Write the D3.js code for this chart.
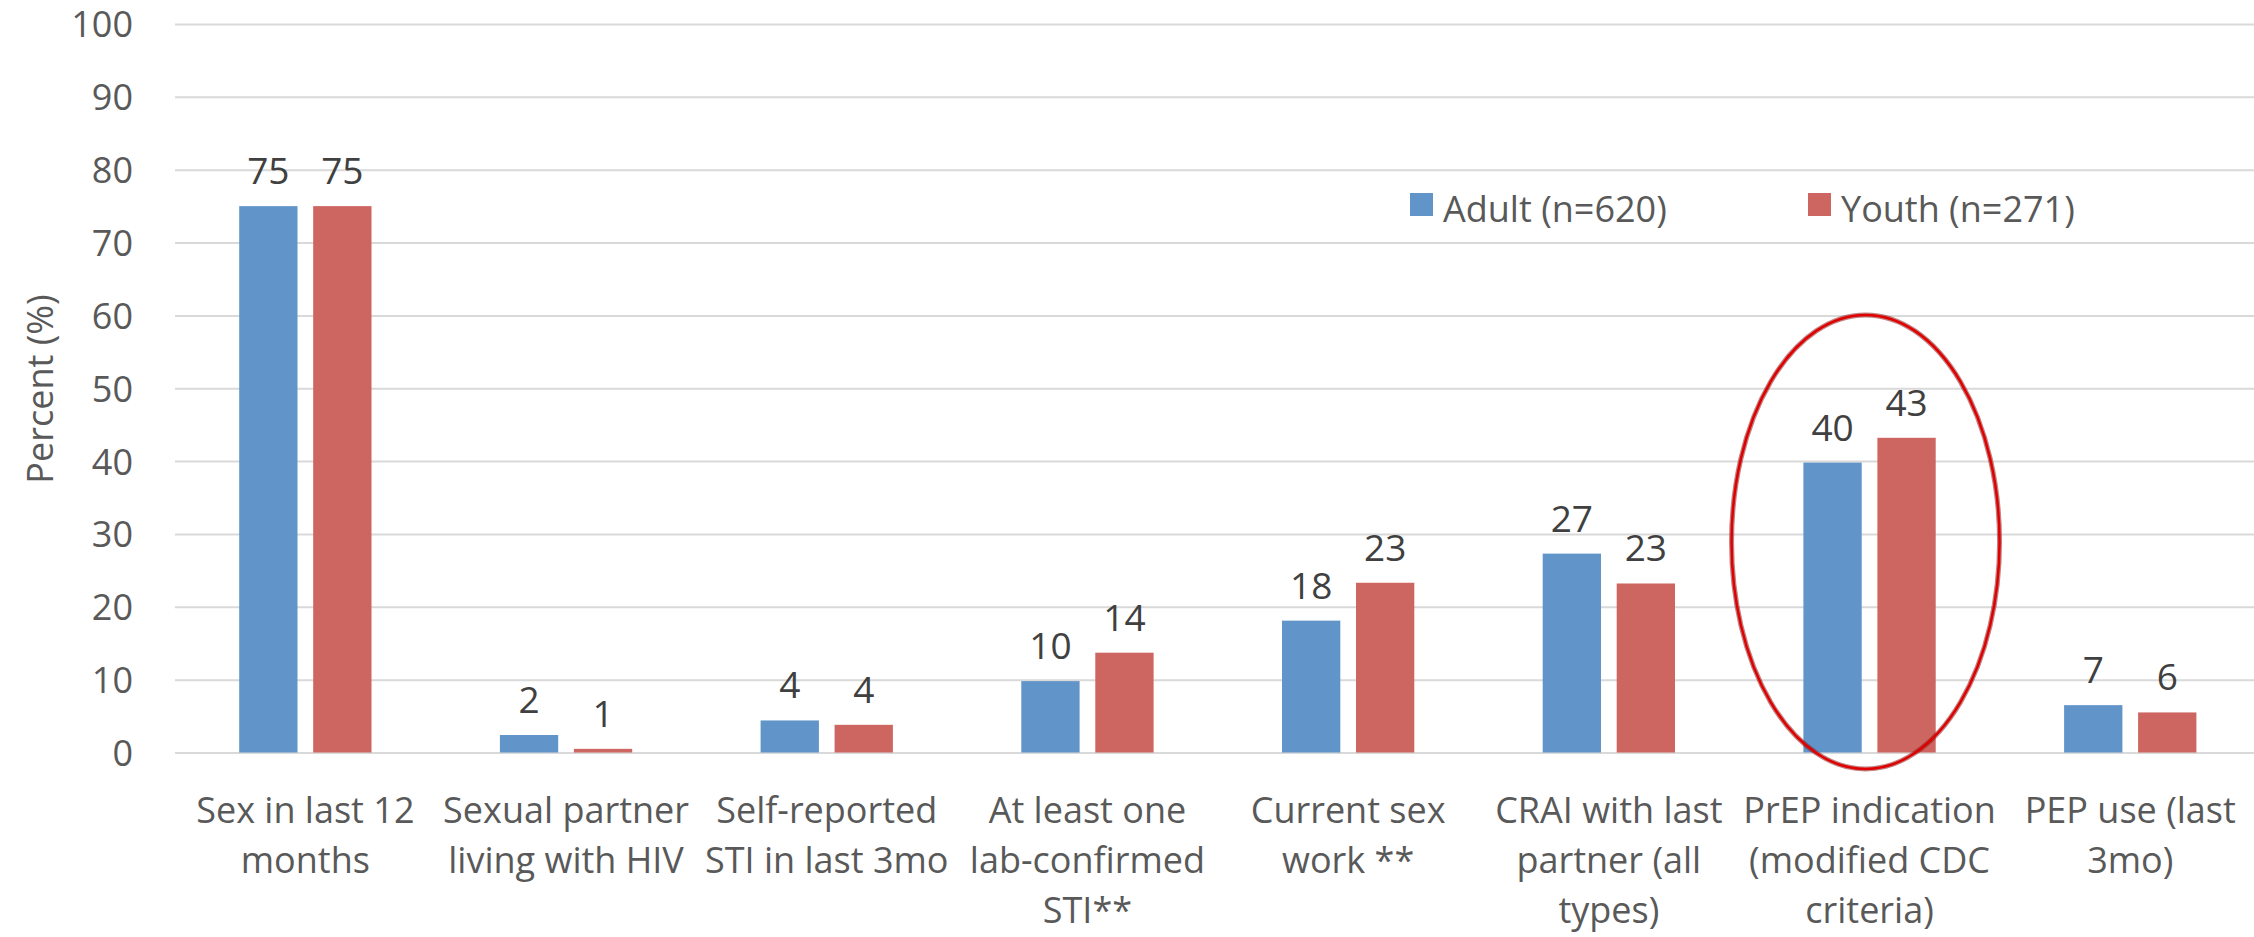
<!DOCTYPE html>
<html>
<head>
<meta charset="utf-8">
<script src="https://d3js.org/d3.v7.min.js"></script>
<style>
  body { margin: 0; background: #fff; }
  text { font-family: "Open Sans", sans-serif; }
</style>
</head>
<body>
<div id="my_dataviz"></div>
<script>
// data
var categories = [
  "Sex in last 12 months",
  "Sexual partner living with HIV",
  "Self-reported STI in last 3mo",
  "At least one lab-confirmed STI**",
  "Current sex work **",
  "CRAI with last partner (all types)",
  "PrEP indication (modified CDC criteria)",
  "PEP use (last 3mo)"
];
// how the category labels wrap under the axis
var categoryLines = [
  ["Sex in last 12", "months"],
  ["Sexual partner", "living with HIV"],
  ["Self-reported", "STI in last 3mo"],
  ["At least one", "lab-confirmed", "STI**"],
  ["Current sex", "work **"],
  ["CRAI with last", "partner (all", "types)"],
  ["PrEP indication", "(modified CDC", "criteria)"],
  ["PEP use (last", "3mo)"]
];
var seriesNames = ["Adult (n=620)", "Youth (n=271)"];
var adultValues = [75, 2.4, 4.4, 9.8, 18.1, 27.3, 39.8, 6.5];
var youthValues = [75, 0.5, 3.8, 13.7, 23.3, 23.2, 43.2, 5.5];
var yTicks = [0, 10, 20, 30, 40, 50, 60, 70, 80, 90, 100];
var highlightCategory = "PrEP indication (modified CDC criteria)";

var colors = ["#6195C9", "#CD6661"];

// set the dimensions and margins of the graph
let margin = {top: 24, right: 0, bottom: 184.5, left: 175},
  width = 2254 - margin.left - margin.right,
  height = 937 - margin.top - margin.bottom;

var svg = d3.select("#my_dataviz")
.append("svg")
  .attr("width", 2254)
  .attr("height", 937)
.append("g")
  .attr("transform", "translate(" + margin.left + "," + margin.top + ")");

// one band per category, the plot runs a little past the right edge
var step = 260.7;
var x0 = d3.scaleBand()
  .domain(categories)
  .range([0, step * categories.length])
  .padding(0);

var x1 = d3.scaleBand()
  .domain(seriesNames)
  .range([64.2, 196.5])
  .paddingInner(0.212)
  .paddingOuter(0);

var y = d3.scaleLinear()
  .domain([0, 100])
  .range([height, 0]);

// gridlines + tick labels
var yAxis = svg.append("g")
  .attr("class", "y axis")
  .call(d3.axisLeft(y).tickValues(yTicks).tickSize(-(step * categories.length)).tickPadding(42));
yAxis.select(".domain").remove();
yAxis.selectAll(".tick line")
  .attr("stroke", "#d9d9d9")
  .attr("stroke-width", 2);
yAxis.selectAll(".tick text")
  .attr("fill", "#595959")
  .style("font-size", "36px")
  .attr("dy", "0.36em");

// y axis title
svg.append("text")
  .attr("transform", "translate(" + (39 - margin.left) + "," + (389 - margin.top) + ") rotate(-90)")
  .attr("text-anchor", "middle")
  .attr("dominant-baseline", "central")
  .attr("fill", "#595959")
  .style("font-size", "36px")
  .text("Percent (%)");

// build rows for the grouped bars
var rows = categories.map(function(c, i) {
  return {category: c, values: [
    {series: seriesNames[0], value: adultValues[i], idx: 0},
    {series: seriesNames[1], value: youthValues[i], idx: 1}
  ]};
});

var groups = svg.selectAll(".group")
  .data(rows)
  .enter().append("g")
  .attr("class", "group")
  .attr("transform", function(d) { return "translate(" + x0(d.category) + ",0)"; });

groups.selectAll("rect")
  .data(function(d) { return d.values; })
  .enter().append("rect")
  .attr("x", function(d) { return x1(d.series); })
  .attr("width", x1.bandwidth())
  .attr("y", function(d) { return y(d.value); })
  .attr("height", function(d) { return y(0) - y(d.value); })
  .attr("fill", function(d) { return colors[d.idx]; });

// value labels above bars
groups.selectAll(".value")
  .data(function(d) { return d.values; })
  .enter().append("text")
  .attr("class", "value")
  .attr("x", function(d) { return x1(d.series) + x1.bandwidth() / 2; })
  .attr("y", function(d) { return y(d.value) - 22; })
  .attr("text-anchor", "middle")
  .attr("fill", "#404040")
  .style("font-size", "37px")
  .text(function(d) { return Math.round(d.value); });

// category labels (wrapped)
var catLabels = svg.append("g").attr("class", "x labels");
categories.forEach(function(c, i) {
  var t = catLabels.append("text")
    .attr("x", x0(c) + x0.bandwidth() / 2)
    .attr("y", height + 70)
    .attr("text-anchor", "middle")
    .attr("fill", "#595959")
    .style("font-size", "36px");
  categoryLines[i].forEach(function(line, j) {
    t.append("tspan")
      .attr("x", x0(c) + x0.bandwidth() / 2)
      .attr("dy", j === 0 ? 0 : 50.3)
      .text(line);
  });
});

// legend
var legendX = [1410 - margin.left, 1808 - margin.left];
var legend = svg.selectAll(".legend")
  .data(seriesNames)
  .enter().append("g")
  .attr("class", "legend")
  .attr("transform", function(d, i) { return "translate(" + legendX[i] + "," + (193 - margin.top) + ")"; });
legend.append("rect")
  .attr("width", 23)
  .attr("height", 23)
  .attr("fill", function(d, i) { return colors[i]; });
legend.append("text")
  .attr("x", 33)
  .attr("y", 29)
  .attr("fill", "#595959")
  .style("font-size", "36px")
  .text(function(d) { return d; });

// red ellipse round the PrEP group
var hx = x0(highlightCategory) + x0.bandwidth() / 2;
svg.append("ellipse")
  .attr("cx", hx - 4)
  .attr("cy", y(28.9))
  .attr("rx", 134)
  .attr("ry", 227)
  .attr("fill", "none")
  .attr("stroke", "#8e1a1a")
  .attr("stroke-width", 5)
  .attr("opacity", 0.55);
svg.append("ellipse")
  .attr("cx", hx - 4)
  .attr("cy", y(28.9))
  .attr("rx", 134)
  .attr("ry", 227)
  .attr("fill", "none")
  .attr("stroke", "#e00000")
  .attr("stroke-width", 2.5);
</script>
</body>
</html>
